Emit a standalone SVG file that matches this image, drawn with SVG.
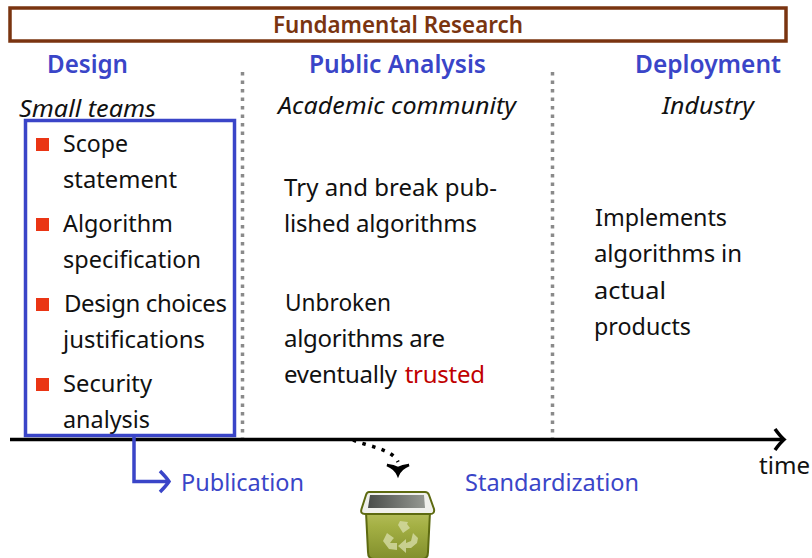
<svg xmlns="http://www.w3.org/2000/svg" width="812" height="558" viewBox="0 0 812 558">
<defs>
<style>
text{font-family:"Noto Sans","Open Sans",sans-serif;font-size:24px;fill:#111}
.h{fill:#3a45c8;font-size:25px;font-weight:600}
.i{font-style:italic}
.b{fill:#3a45c8}
.sq{fill:#ea3514}
.dot{fill:none;stroke:#8a8a8a;stroke-width:3.500;stroke-dasharray:3.500 5}
</style>
<linearGradient id="bin" x1="0" y1="0" x2="0" y2="1"><stop offset="0" stop-color="#b4bd5a"/><stop offset=".3" stop-color="#a4b044"/><stop offset="1" stop-color="#828f2c"/></linearGradient>
<linearGradient id="inner" x1="0" y1="0" x2="1" y2="0"><stop offset="0" stop-color="#4a4d4a"/><stop offset="1" stop-color="#959892"/></linearGradient>
</defs>
<rect width="812" height="558" fill="#fff"/>
<g id="banner">
<rect x="10" y="8" width="776" height="33" fill="#fff" stroke="#7a3410" stroke-width="3.500"/>
<text x="398" y="33" text-anchor="middle" font-weight="600" style="fill:#7a3410" textLength="250" lengthAdjust="spacingAndGlyphs">Fundamental Research</text>
</g>
<g id="dividers">
<path class="dot" d="M242.500 72V438"/>
<path class="dot" d="M552.500 72V438"/>
</g>
<g id="design">
<text class="h" x="47" y="73" textLength="81" lengthAdjust="spacingAndGlyphs">Design</text>
<text class="i" x="19" y="117" textLength="137" lengthAdjust="spacingAndGlyphs">Small teams</text>
<rect class="sq" x="36" y="138" width="13" height="13"/>
<text x="63" y="151.500" textLength="65" lengthAdjust="spacingAndGlyphs">Scope</text>
<text x="63" y="187.500" textLength="114" lengthAdjust="spacingAndGlyphs">statement</text>
<rect class="sq" x="36" y="218" width="13" height="13"/>
<text x="63" y="231.500" textLength="110" lengthAdjust="spacingAndGlyphs">Algorithm</text>
<text x="63" y="267.500" textLength="138" lengthAdjust="spacingAndGlyphs">specification</text>
<rect class="sq" x="36" y="298" width="13" height="13"/>
<text x="64" y="311.500" textLength="163" lengthAdjust="spacing">Design choices</text>
<text x="63" y="347.500" textLength="142" lengthAdjust="spacingAndGlyphs">justifications</text>
<rect class="sq" x="36" y="378" width="13" height="13"/>
<text x="63" y="391.500" textLength="89" lengthAdjust="spacingAndGlyphs">Security</text>
<text x="63" y="427.500" textLength="87" lengthAdjust="spacingAndGlyphs">analysis</text>
<rect x="25.500" y="120.500" width="209" height="315" fill="none" stroke="#3a45c8" stroke-width="3.500"/>
</g>
<g id="public-analysis">
<text class="h" x="309" y="73" textLength="177" lengthAdjust="spacingAndGlyphs">Public Analysis</text>
<text class="i" x="278" y="114" textLength="238" lengthAdjust="spacingAndGlyphs">Academic community</text>
<text x="284" y="196" textLength="213" lengthAdjust="spacing">Try and break pub-</text>
<text x="284" y="232" textLength="193" lengthAdjust="spacing">lished algorithms</text>
<text x="285" y="311" textLength="106" lengthAdjust="spacingAndGlyphs">Unbroken</text>
<text x="284" y="347" textLength="161" lengthAdjust="spacing">algorithms are</text>
<text x="284" y="383" textLength="201" lengthAdjust="spacing">eventually <tspan dx="2" style="fill:#c00000">trusted</tspan></text>
</g>
<g id="deployment">
<text class="h" x="635" y="73" textLength="146" lengthAdjust="spacingAndGlyphs">Deployment</text>
<text class="i" x="662" y="114" textLength="92" lengthAdjust="spacingAndGlyphs">Industry</text>
<text x="595" y="226" textLength="132" lengthAdjust="spacingAndGlyphs">Implements</text>
<text x="594" y="262" textLength="148" lengthAdjust="spacing">algorithms in</text>
<text x="594" y="299" textLength="72" lengthAdjust="spacingAndGlyphs">actual</text>
<text x="594" y="335" textLength="97" lengthAdjust="spacingAndGlyphs">products</text>
</g>
<g id="connectors" fill="none">
<path d="M10 439.500H782" stroke="#000" stroke-width="3.500"/>
<path d="M775 429q5 7 9 10.500q-4 3.500-9 10.500" stroke="#000" stroke-width="3.500"/>
<path d="M134 437V481.500H168" stroke="#3a45c8" stroke-width="3.500"/>
<path d="M160 471q6 6 9 10.500q-3 4.500-9 10.500" stroke="#3a45c8" stroke-width="3.500"/>
<path d="M353 440C370 447 392 449 398 462" stroke="#000" stroke-width="3.500" stroke-dasharray="3.500 6.500"/>
<path d="M387 465q8 3 11 10q3-7 11-10q-7 1-11 3q-4-2-11-3z" fill="#000" stroke="#000" stroke-width="2.500"/>
</g>
<g id="labels">
<text class="b" x="181" y="491" textLength="123" lengthAdjust="spacingAndGlyphs">Publication</text>
<text class="b" x="465" y="491" textLength="174" lengthAdjust="spacingAndGlyphs">Standardization</text>
<text x="759" y="474" textLength="51" lengthAdjust="spacingAndGlyphs">time</text>
</g>
<g id="trash">
<path d="M366 512H430L428 552Q428 559 422 559H374Q368 559 368 552Z" fill="url(#bin)" stroke="#5d6a10" stroke-width="2"/>
<path d="M369 492H425Q428 492 429 495L434 509Q435 514 430 514H365Q360 514 361.500 509L366 495Q367 492 369 492Z" fill="#f0f0ec" stroke="#5d6a10" stroke-width="2"/>
<path d="M370 495H424L425 508H368Z" fill="url(#inner)"/>
<g fill="#d6dca6" opacity=".8">
<path d="M400 521l8 1l-1 2l3 4l-7 5l-5-8z"/>
<path d="M387 533l7 5l-1 1l-3 4l7 0v7l-8-1l-6-8z"/>
<path d="M413 533l5 5l-1 5l-6 5l-5 0v5l-8-7l8-7v4l5-2z"/>
</g>
</g>
</svg>
